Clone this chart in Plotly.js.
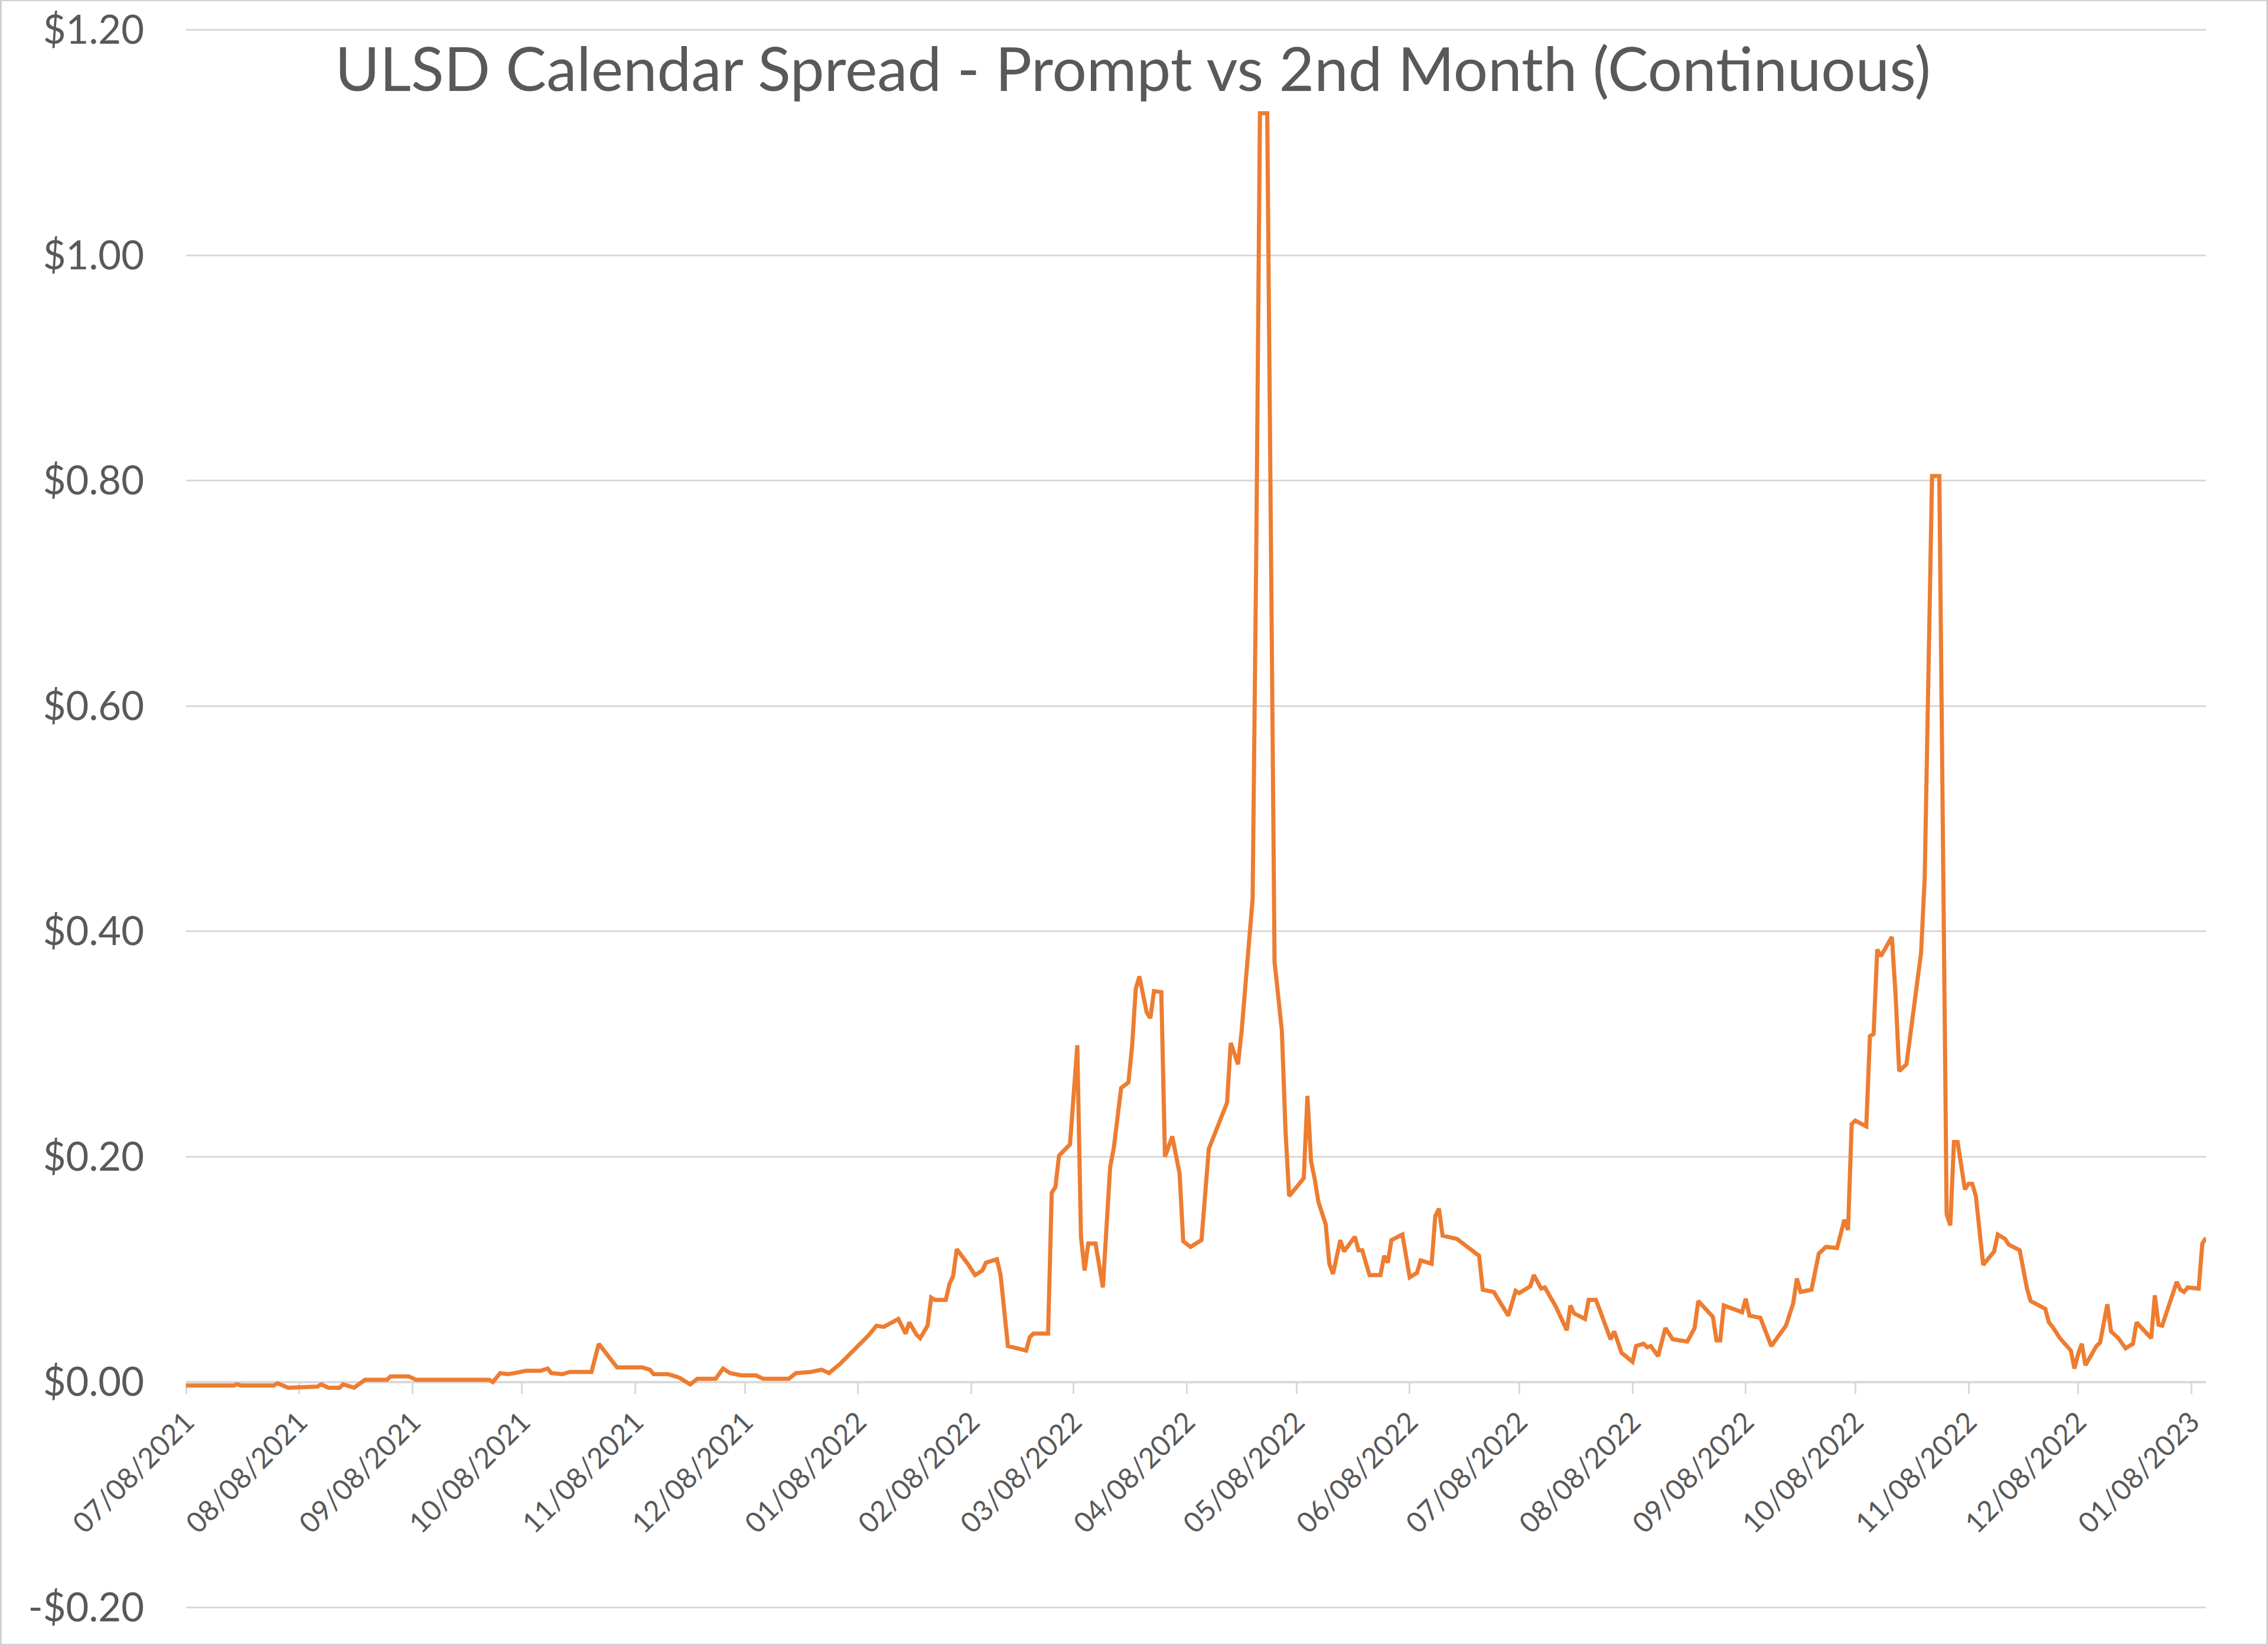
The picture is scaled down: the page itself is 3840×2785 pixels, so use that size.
<!DOCTYPE html>
<html>
<head>
<meta charset="utf-8">
<script src="https://cdn.plot.ly/plotly-3.0.1.min.js"></script>
<style>
  html, body { margin: 0; padding: 0; background: #ffffff; }
  #chart { width: 3840px; height: 2785px; }
</style>
</head>
<body>
<div id="chart"></div>
<script>
const chartTitle = 'ULSD Calendar Spread - Prompt vs 2nd Month (Continuous)';

const dates = [
  '2021-07-08','2021-07-21','2021-07-22','2021-07-23',
  '2021-08-01','2021-08-02','2021-08-05','2021-08-13','2021-08-14','2021-08-16','2021-08-19','2021-08-20','2021-08-23','2021-08-26',
  '2021-09-01','2021-09-02','2021-09-07','2021-09-09','2021-09-29','2021-09-30',
  '2021-10-02','2021-10-04','2021-10-06','2021-10-09','2021-10-13','2021-10-15','2021-10-16','2021-10-19','2021-10-21','2021-10-27','2021-10-29',
  '2021-11-02','2021-11-03','2021-11-10','2021-11-12','2021-11-13','2021-11-17','2021-11-20','2021-11-23','2021-11-25','2021-11-30',
  '2021-12-02','2021-12-04','2021-12-07','2021-12-11','2021-12-13','2021-12-20','2021-12-22','2021-12-26','2021-12-29','2021-12-31',
  '2022-01-03','2022-01-06','2022-01-08','2022-01-11','2022-01-13','2022-01-15','2022-01-19','2022-01-21','2022-01-22','2022-01-24','2022-01-25','2022-01-27','2022-01-28','2022-01-29',
  '2022-02-01','2022-02-02','2022-02-03','2022-02-04','2022-02-07','2022-02-09','2022-02-11','2022-02-12','2022-02-15','2022-02-16','2022-02-18','2022-02-23','2022-02-24','2022-02-25',
  '2022-03-01','2022-03-02','2022-03-03','2022-03-04','2022-03-07','2022-03-09','2022-03-10','2022-03-11','2022-03-12','2022-03-14','2022-03-16','2022-03-18','2022-03-19','2022-03-21','2022-03-23','2022-03-24','2022-03-25','2022-03-26','2022-03-28','2022-03-29','2022-03-30',
  '2022-04-01','2022-04-02','2022-04-04','2022-04-06','2022-04-07','2022-04-09','2022-04-12','2022-04-14','2022-04-19','2022-04-20','2022-04-22','2022-04-23','2022-04-26','2022-04-27','2022-04-28','2022-04-30',
  '2022-05-02','2022-05-04','2022-05-05','2022-05-06','2022-05-10','2022-05-11','2022-05-12','2022-05-13','2022-05-14','2022-05-16','2022-05-17','2022-05-18','2022-05-20','2022-05-21','2022-05-24','2022-05-25','2022-05-26','2022-05-28','2022-05-31',
  '2022-06-01','2022-06-02','2022-06-03','2022-06-06','2022-06-08','2022-06-10','2022-06-11','2022-06-14','2022-06-15','2022-06-16','2022-06-17','2022-06-21','2022-06-27','2022-06-28',
  '2022-07-01','2022-07-05','2022-07-07','2022-07-08','2022-07-11','2022-07-12','2022-07-14','2022-07-15','2022-07-18','2022-07-21','2022-07-22','2022-07-23','2022-07-26','2022-07-27','2022-07-29',
  '2022-08-02','2022-08-03','2022-08-05','2022-08-08','2022-08-09','2022-08-11','2022-08-12','2022-08-13','2022-08-15','2022-08-17','2022-08-19','2022-08-23','2022-08-25','2022-08-26','2022-08-30','2022-08-31',
  '2022-09-01','2022-09-02','2022-09-07','2022-09-08','2022-09-09','2022-09-12','2022-09-15','2022-09-19','2022-09-21','2022-09-22','2022-09-23','2022-09-26','2022-09-28','2022-09-30',
  '2022-10-03','2022-10-05','2022-10-06','2022-10-07','2022-10-08','2022-10-11','2022-10-12','2022-10-13','2022-10-14','2022-10-15','2022-10-18','2022-10-19','2022-10-20','2022-10-22','2022-10-26','2022-10-27','2022-10-29','2022-10-31',
  '2022-11-02','2022-11-03','2022-11-04','2022-11-05','2022-11-07','2022-11-08','2022-11-09','2022-11-10','2022-11-12','2022-11-15','2022-11-16','2022-11-18','2022-11-19','2022-11-22','2022-11-24','2022-11-25','2022-11-29','2022-11-30',
  '2022-12-01','2022-12-03','2022-12-06','2022-12-07','2022-12-08','2022-12-09','2022-12-10','2022-12-13','2022-12-14','2022-12-16','2022-12-17','2022-12-19','2022-12-21','2022-12-23','2022-12-24','2022-12-28','2022-12-29','2022-12-30','2022-12-31',
  '2023-01-04','2023-01-05','2023-01-06','2023-01-07','2023-01-10','2023-01-11','2023-01-12'
];

const spread = [
  -0.003,-0.003,-0.002,-0.003,
  -0.003,-0.001,-0.005,-0.004,-0.002,-0.005,-0.005,-0.002,-0.005,0.002,
  0.002,0.005,0.005,0.002,0.002,0.000,
  0.008,0.007,0.008,0.010,0.010,0.012,0.008,0.007,0.009,0.009,0.034,
  0.016,0.013,0.013,0.011,0.007,0.007,0.004,-0.002,0.003,0.003,
  0.012,0.008,0.006,0.006,0.003,0.003,0.008,0.009,0.011,0.008,
  0.016,0.026,0.032,0.042,0.050,0.049,0.056,0.043,0.053,0.042,0.039,0.050,0.075,0.073,
  0.073,0.087,0.094,0.118,0.105,0.095,0.099,0.106,0.109,0.095,0.032,0.028,0.040,0.043,
  0.043,0.168,0.173,0.201,0.211,0.299,0.129,0.099,0.123,0.123,0.084,0.191,0.208,0.261,0.266,0.298,0.349,0.360,0.328,0.323,0.347,
  0.346,0.200,0.218,0.185,0.125,0.120,0.126,0.207,0.248,0.301,0.282,0.312,0.429,0.738,1.126,1.126,
  0.373,0.312,0.223,0.165,0.181,0.254,0.196,0.180,0.160,0.140,0.105,0.096,0.126,0.116,0.129,0.117,0.117,0.095,0.095,
  0.112,0.106,0.126,0.131,0.093,0.097,0.108,0.105,0.147,0.154,0.130,0.127,0.112,0.082,
  0.080,0.059,0.081,0.079,0.085,0.095,0.083,0.084,0.067,0.046,0.068,0.061,0.056,0.073,0.073,
  0.038,0.045,0.026,0.018,0.032,0.034,0.031,0.032,0.023,0.048,0.038,0.036,0.048,0.072,0.058,0.037,
  0.037,0.068,0.062,0.074,0.059,0.057,0.032,0.050,0.070,0.092,0.080,0.082,0.114,0.120,
  0.119,0.144,0.135,0.229,0.232,0.227,0.307,0.309,0.384,0.378,0.395,0.345,0.276,0.282,0.381,0.448,0.804,0.804,
  0.149,0.139,0.213,0.213,0.171,0.176,0.176,0.165,0.104,0.116,0.131,0.127,0.122,0.117,0.083,0.072,0.065,0.053,
  0.049,0.039,0.028,0.012,0.025,0.034,0.015,0.032,0.035,0.069,0.045,0.039,0.030,0.034,0.053,0.039,0.077,0.051,0.050,
  0.089,0.082,0.080,0.084,0.083,0.123,0.128
];

const xTickLabels = [
  '07/08/2021','08/08/2021','09/08/2021','10/08/2021','11/08/2021','12/08/2021',
  '01/08/2022','02/08/2022','03/08/2022','04/08/2022','05/08/2022','06/08/2022',
  '07/08/2022','08/08/2022','09/08/2022','10/08/2022','11/08/2022','12/08/2022',
  '01/08/2023'
];
const xRange = ['2021-07-08', '2023-01-12'];

const yTickVals = [-0.2, 0, 0.2, 0.4, 0.6, 0.8, 1.0, 1.2];
const yTickLabels = ['-$0.20','$0.00','$0.20','$0.40','$0.60','$0.80','$1.00','$1.20'];

const xTickVals = xTickLabels.map(s => {
  const p = s.split('/');
  return p[2] + '-' + p[0] + '-' + p[1];
});

const W = 3840, H = 2785, ML = 315, MR = 105, MT = 50, MB = 63;
const PW = W - ML - MR, PH = H - MT - MB;
const toPX = v => (v - ML) / PW;
const toPY = v => (H - MB - v) / PH;

const FONT = 'Lato, "Open Sans", sans-serif';
const GRID = '#d9d9d9';
const TXT = '#595959';

const yMin = yTickVals[0], yMax = yTickVals[yTickVals.length - 1];
const yPad = 0.0008;

const trace = {
  type: 'scatter',
  mode: 'lines',
  x: dates,
  y: spread,
  line: { color: '#ED7D31', width: 7 },
  hoverinfo: 'skip'
};

const layout = {
  width: W,
  height: H,
  margin: { l: ML, r: MR, t: MT - 1.5, b: MB - 1.5, pad: 0 },
  paper_bgcolor: '#ffffff',
  plot_bgcolor: '#ffffff',
  showlegend: false,
  title: {
    text: chartTitle,
    font: { family: FONT, size: 103, color: TXT },
    xref: 'container', x: 0.4995, xanchor: 'center',
    yref: 'container', y: 1 - 118 / H, yanchor: 'middle'
  },
  xaxis: {
    type: 'date',
    range: xRange,
    anchor: 'free',
    position: (0 - (yMin - yPad)) / ((yMax + yPad) - (yMin - yPad)),
    tickmode: 'array',
    tickvals: xTickVals,
    ticktext: xTickLabels,
    tickangle: -45,
    ticks: 'outside',
    ticklen: 18,
    tickwidth: 3,
    tickcolor: GRID,
    showline: true,
    linecolor: GRID,
    linewidth: 3,
    showgrid: false,
    zeroline: false,
    layer: 'below traces',
    tickfont: { family: FONT, size: 48, color: TXT }
  },
  yaxis: {
    range: [yMin - yPad, yMax + yPad],
    tickmode: 'array',
    tickvals: yTickVals,
    ticktext: yTickLabels,
    showgrid: true,
    gridcolor: GRID,
    gridwidth: 3,
    zeroline: false,
    showline: false,
    ticks: '',
    ticklabelstandoff: 70,
    layer: 'below traces',
    tickfont: { family: FONT, size: 67, color: TXT }
  },
  shapes: [{
    type: 'rect', xref: 'paper', yref: 'paper',
    x0: toPX(1.5), x1: toPX(W - 1.5), y0: toPY(H - 1.5), y1: toPY(1.5),
    line: { color: '#d0d0d0', width: 3 },
    fillcolor: 'rgba(0,0,0,0)',
    layer: 'below'
  }]
};

Plotly.newPlot('chart', [trace], layout, { displayModeBar: false, staticPlot: true });
</script>
</body>
</html>
